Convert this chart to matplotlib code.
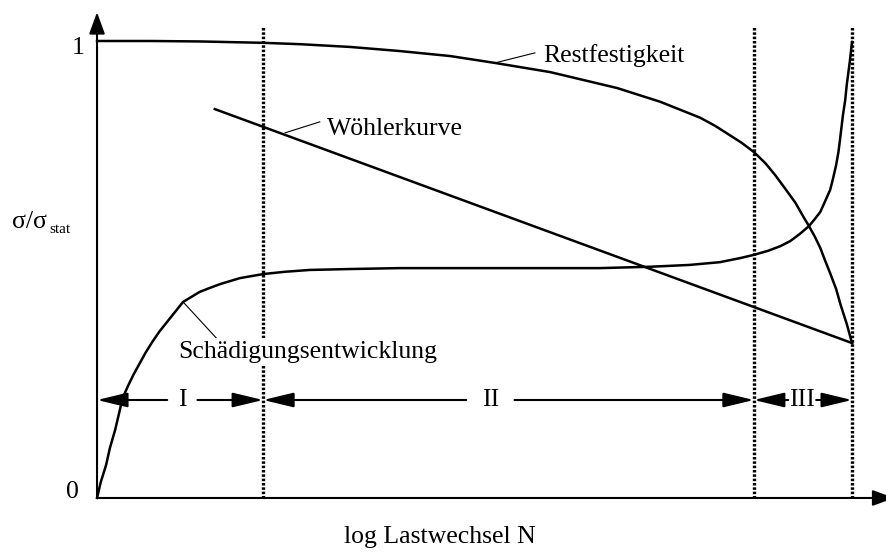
import matplotlib
matplotlib.use("Agg")
import matplotlib.pyplot as plt

plt.rcParams['font.family'] = ['Liberation Serif', 'DejaVu Serif']

# relative log N (0 = origin, 1 = failure) and sigma/sigma_stat
rest_x = [0, 0.070, 0.136, 0.220, 0.269, 0.335, 0.401, 0.468, 0.527, 0.600, 0.689,
          0.746, 0.799, 0.819, 0.838, 0.854, 0.870, 0.885, 0.898, 0.911, 0.925,
          0.935, 0.943, 0.951, 0.958, 0.964, 0.971, 0.979, 0.985, 0.993, 1.0]
rest_y = [1.0, 1.0, 0.999, 0.996, 0.993, 0.987, 0.978, 0.967, 0.952, 0.932, 0.897,
          0.867, 0.832, 0.814, 0.794, 0.777, 0.757, 0.733, 0.707, 0.678, 0.646,
          0.617, 0.595, 0.571, 0.547, 0.521, 0.492, 0.457, 0.422, 0.381, 0.339]

dmg_x = [0, 0.005, 0.012, 0.017, 0.024, 0.029, 0.034, 0.041, 0.048, 0.056, 0.064,
         0.073, 0.083, 0.097, 0.114, 0.125, 0.136, 0.150, 0.163, 0.189, 0.220,
         0.249, 0.282, 0.335, 0.401, 0.534, 0.666, 0.733, 0.785, 0.825, 0.852,
         0.870, 0.889, 0.905, 0.918, 0.931, 0.943, 0.951, 0.958, 0.964, 0.971,
         0.975, 0.979, 0.982, 0.984, 0.988, 0.991, 0.993, 0.997, 1.0]
dmg_y = [0, 0.035, 0.072, 0.109, 0.149, 0.184, 0.219, 0.245, 0.269, 0.293, 0.317,
         0.341, 0.365, 0.394, 0.429, 0.440, 0.451, 0.460, 0.468, 0.481, 0.490,
         0.495, 0.499, 0.501, 0.503, 0.503, 0.503, 0.506, 0.510, 0.516, 0.525,
         0.532, 0.541, 0.551, 0.562, 0.578, 0.595, 0.611, 0.626, 0.648, 0.674,
         0.700, 0.729, 0.757, 0.783, 0.838, 0.871, 0.904, 0.954, 0.998]

woehler_x = [0.156, 1.0]
woehler_y = [0.851, 0.339]

# phase boundaries I | II | III
bounds = [0.0, 0.220, 0.870, 1.0]
phases = ['I', 'II', 'III']
phase_pos = [0.113, 0.521, 0.934]
phase_gap = [0.020, 0.032, 0.0185]

fig = plt.figure(figsize=(8.86, 5.53), dpi=100)
ax = fig.add_axes([0, 0, 1, 1])
ax.set_xlim(-0.1285, 1.045)
ax.set_ylim(-0.1204, 1.0897)
ax.axis('off')

fs = 18.5
lw = 1.8

# axes with arrow heads
axis_head = dict(arrowstyle='-|>,head_length=1.1,head_width=0.4', mutation_scale=12,
                 lw=1.5, color='black', shrinkA=0, shrinkB=0)
ax.annotate('', xy=(0, 1.063), xytext=(0, 0), annotation_clip=False, arrowprops=axis_head)
ax.annotate('', xy=(1.056, 0), xytext=(0, 0), annotation_clip=False, arrowprops=axis_head)

# dotted phase boundaries
for b in bounds[1:]:
    ax.plot([b, b], [0, 1.031], color='black', lw=2.4,
            linestyle=(0, (0.75, 0.55)), dash_capstyle='butt', zorder=1)

# curves
ax.plot(rest_x, rest_y, color='black', lw=lw, solid_joinstyle='round', zorder=3)
ax.plot(dmg_x, dmg_y, color='black', lw=lw, solid_joinstyle='round', zorder=3)
ax.plot(woehler_x, woehler_y, color='black', lw=lw, zorder=3)

# labels with leader lines
ax.plot([0.527, 0.580], [0.952, 0.974], color='black', lw=0.8)
ax.text(0.591, 0.954, 'Restfestigkeit', fontsize=fs, va='baseline')
ax.plot([0.249, 0.295], [0.799, 0.823], color='black', lw=0.8)
ax.text(0.305, 0.794, 'Wöhlerkurve', fontsize=fs, va='baseline')
ax.plot([0.114, 0.163], [0.429, 0.341], color='black', lw=0.8)
ax.text(0.107, 0.306, 'Schädigungsentwicklung', fontsize=fs, va='baseline',
        bbox=dict(fc='white', ec='none', pad=2), zorder=4)

# phase arrows
y_ph = 0.2144
head = dict(arrowstyle='-|>,head_length=1.25,head_width=0.3', mutation_scale=15,
            lw=1.5, color='black', shrinkA=0, shrinkB=0)
for name, xc, g, x0, x1 in zip(phases, phase_pos, phase_gap, bounds[:-1], bounds[1:]):
    ax.annotate('', xy=(x0, y_ph), xytext=(xc - g, y_ph), arrowprops=head)
    ax.annotate('', xy=(x1, y_ph), xytext=(xc + g, y_ph), arrowprops=head)
    ax.text(xc, y_ph, name, fontsize=fs, ha='center', va='center', zorder=5)

# ticks and axis labels
ax.text(-0.025, 0.985, '1', fontsize=fs, ha='center', va='center')
ax.text(-0.033, 0.013, '0', fontsize=fs, ha='center', va='center')
ax.text(-0.1126, 0.591, 'σ/σ', fontsize=fs, va='baseline')
ax.text(-0.0636, 0.580, 'stat', fontsize=11, va='baseline')
ax.text(0.454, -0.085, 'log Lastwechsel N', fontsize=fs, ha='center', va='center')

fig.savefig('out.png', dpi=100)
